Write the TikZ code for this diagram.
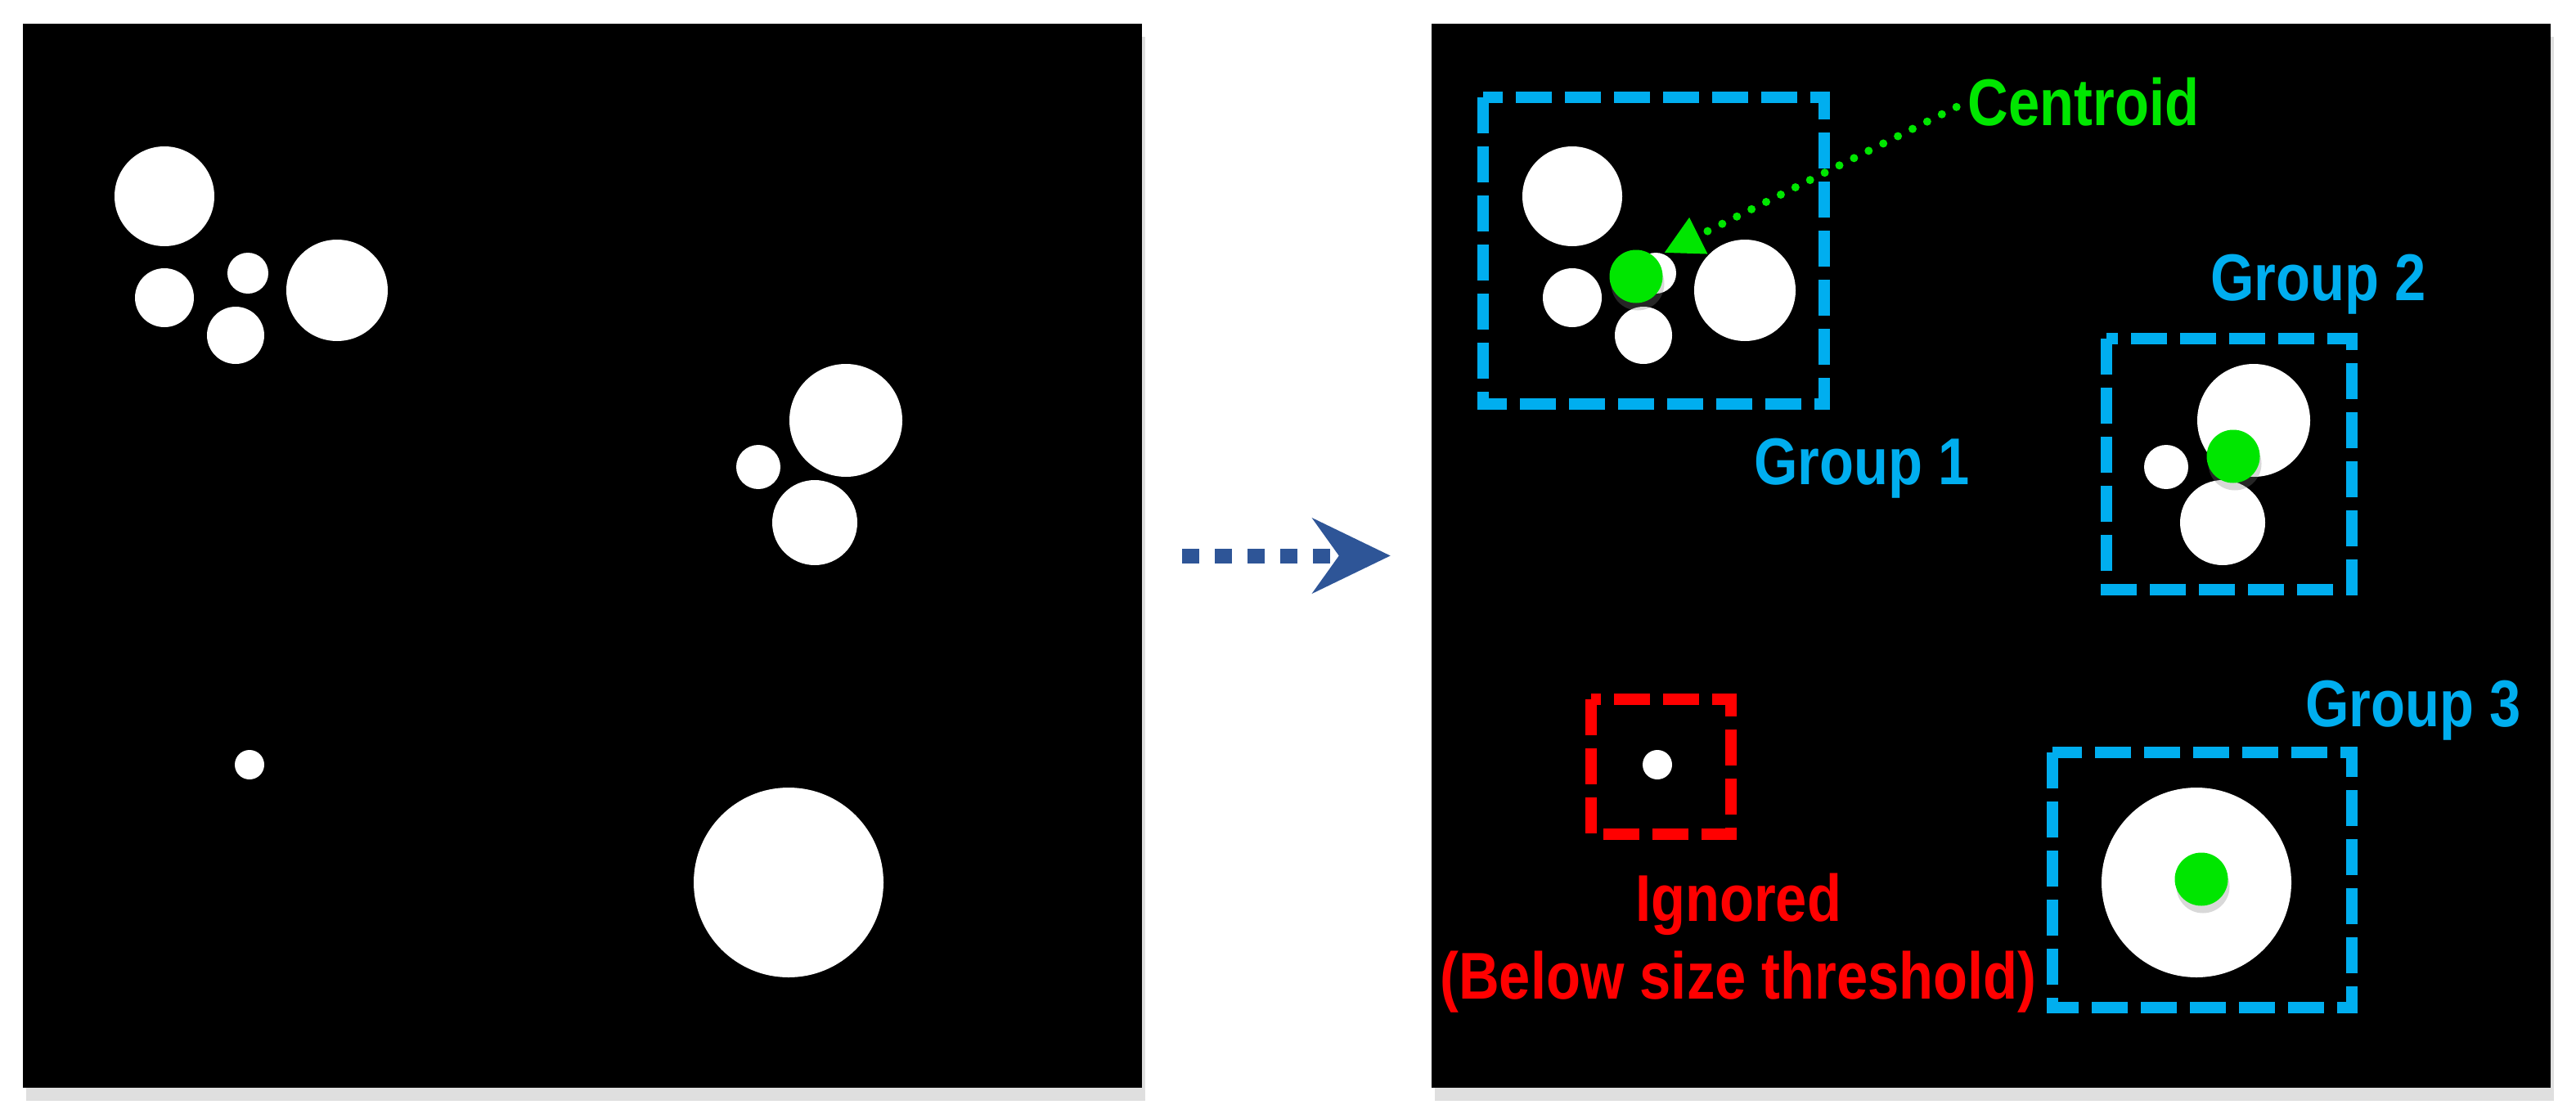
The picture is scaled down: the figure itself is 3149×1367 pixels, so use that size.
\documentclass[tikz,border=0pt]{standalone}
\usepackage{fontspec}
\newfontfamily\lblfont{Liberation Sans}[FakeStretch=0.85]
\usetikzlibrary{arrows.meta,positioning,shadows}

\definecolor{grpblue}{RGB}{0,174,239}
\definecolor{cengreen}{RGB}{0,230,0}
\definecolor{ignred}{RGB}{255,0,0}
\definecolor{flowblue}{RGB}{46,85,151}

\begin{document}
\begin{tikzpicture}[
  x=0.1mm, y=-0.1mm,
  panel/.style={
    fill=black,
    inner sep=0pt,
    minimum width=136.8mm,
    minimum height=130.1mm,
    drop shadow={shadow xshift=0.4mm, shadow yshift=-1.6mm, opacity=0.25}
  },
  blob/.style={fill=white},
  centdot/.style={
    circle,
    fill=cengreen,
    inner sep=0pt,
    minimum size=6.5mm,
    drop shadow={shadow xshift=0.2mm, shadow yshift=-0.9mm, opacity=0.3}
  },
  grpbox/.style={draw=grpblue, line width=1.45mm, dash pattern=on 4.4mm off 1.6mm},
  ignbox/.style={grpbox, draw=ignred},
  lbl/.style={font=\lblfont\bfseries\fontsize{23}{27}\selectfont, inner sep=0pt},
  grplabel/.style={lbl, text=grpblue, anchor=base},
  cenlabel/.style={lbl, text=cengreen, anchor=base},
  ignlabel/.style={lbl, text=ignred, anchor=north, align=center},
  flowarrow/.style={
    flowblue,
    line width=1.8mm,
    dash pattern=on 2.1mm off 1.9mm,
    shorten <=4.9mm, shorten >=4.9mm,
    -{Stealth[length=9.5mm,width=9.1mm,inset=3.2mm]}
  },
  cenarrow/.style={
    cengreen,
    line width=1mm,
    line cap=round,
    dash pattern=on 0pt off 2mm,
    shorten <=1.5mm, shorten >=1.2mm,
    -{Triangle[length=4.7mm,width=4.7mm]}
  }
]
\useasboundingbox (0,0) rectangle (3149,1367);

% Binary images
\node[panel] (rawimg) at (711.5,679.5) {};
\node[panel] (grpimg) at (2433.5,679.5) {};

% Blobs (same in both images)
\foreach \dx in {0,1721} {
  \foreach \x/\y/\r in {201/240/61, 201/364/36, 303/334/25, 288/410/35, 412/355/62,
                        1034/514/69, 927/571/27, 996/639/52,
                        305/935/18, 964/1079/116} {
    \fill[blob] (\x+\dx,\y) circle[radius={\r*0.1mm}];
  }
}

% Group boxes
\draw[grpbox] (1813,119) rectangle (2230,494);
\draw[grpbox] (2575,414) rectangle (2875,721);
\draw[grpbox] (2509,920) rectangle (2875,1232);
\draw[ignbox] (1945,855) rectangle (2116,1020);

% Centroids
\node[centdot] (dot1) at (2000,338) {};
\node[centdot] (dot2) at (2730,558) {};
\node[centdot] (dot3) at (2691,1075) {};

% Labels
\node[cenlabel] (centlbl) at (2547,153) {Centroid};
\node[grplabel] (grp1lbl) at (2276,592) {Group 1};
\node[grplabel] (grp2lbl) at (2834,367) {Group 2};
\node[grplabel] (grp3lbl) at (2950,888) {Group 3};
\node[ignlabel] (ignlbl) at (2125,1067) {Ignored\\(Below size threshold)};

% Arrows
\draw[flowarrow] (rawimg.east) -- (grpimg.west);
\draw[cenarrow] (centlbl.west) -- (dot1.north east);

\end{tikzpicture}
\end{document}
